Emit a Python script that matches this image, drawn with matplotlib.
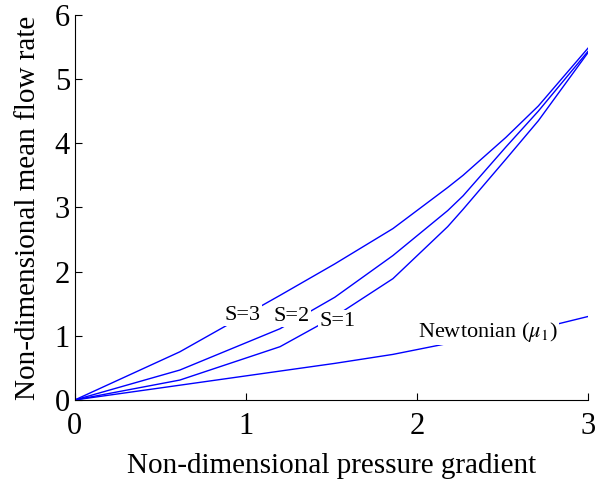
import matplotlib.pyplot as plt

plt.rcParams['font.family'] = ['Liberation Serif', 'DejaVu Serif']
plt.rcParams['mathtext.fontset'] = 'stix'

x_pts = [0.0, 0.614, 1.2, 1.52, 1.86, 2.18, 2.27, 2.52, 2.71, 3.0]
s3 = [0.0, 0.75, 1.63, 2.12, 2.67, 3.31, 3.50, 4.09, 4.58, 5.48]
s2 = [0.0, 0.466, 1.11, 1.60, 2.25, 2.95, 3.18, 3.94, 4.50, 5.43]
s1 = [0.0, 0.31, 0.83, 1.30, 1.89, 2.70, 2.97, 3.75, 4.35, 5.41]
newt = [0.0, 0.23, 0.45, 0.57, 0.71, 0.88, 0.91, 1.02, 1.11, 1.30]

labels = ['S=3', 'S=2', 'S=1', r'Newtonian ($\mu_1$)']
label_pos = [(0.98, 1.32), (1.27, 1.30), (1.535, 1.23), (2.415, 1.06)]

fig = plt.figure(figsize=(6.08, 4.79), dpi=100)
ax = fig.add_axes([0.123, 0.165, 0.844, 0.804])

for ys in (s3, s2, s1, newt):
    ax.plot(x_pts, ys, color='#0000ff', linewidth=1.0, zorder=2)

for txt, (lx, ly) in zip(labels, label_pos):
    ax.text(lx, ly, txt, fontsize=16, ha='center', va='center', zorder=3,
            bbox=dict(facecolor='white', edgecolor='none', pad=1.0))

ax.set_xlim(0, 3)
ax.set_ylim(0, 6)
ax.set_xticks([0, 1, 2, 3])
ax.set_yticks([0, 1, 2, 3, 4, 5, 6])
ax.spines['top'].set_visible(False)
ax.spines['right'].set_visible(False)
ax.tick_params(direction='in', labelsize=22, length=5)
ax.tick_params(axis='x', pad=9)
ax.set_xlabel('Non-dimensional pressure gradient', fontsize=21, labelpad=8)
ax.set_ylabel('Non-dimensional mean flow rate', fontsize=21, labelpad=10)

fig.savefig('out.png', dpi=100)
